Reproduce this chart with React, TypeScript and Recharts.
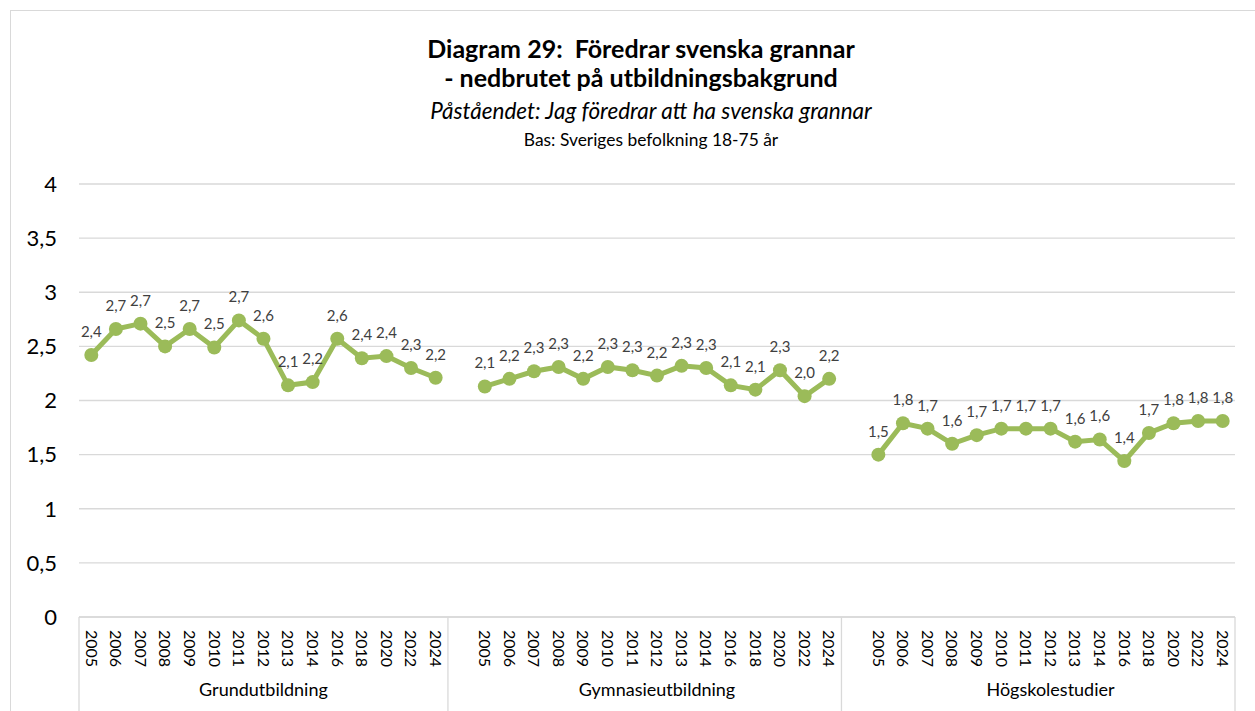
import React from 'react';
import { LineChart, Line, XAxis, YAxis, CartesianGrid, LabelList } from 'recharts';

const years = ['2005', '2006', '2007', '2008', '2009', '2010', '2011', '2012', '2013', '2014', '2016', '2018', '2020', '2022', '2024'];
const groups = ['Grundutbildning', 'Gymnasieutbildning', 'Högskolestudier'];
const grundValues = [2.42, 2.66, 2.71, 2.5, 2.66, 2.49, 2.74, 2.57, 2.14, 2.17, 2.57, 2.39, 2.41, 2.3, 2.21];
const gymValues = [2.13, 2.2, 2.27, 2.31, 2.2, 2.31, 2.28, 2.23, 2.32, 2.3, 2.14, 2.1, 2.28, 2.04, 2.2];
const hogValues = [1.5, 1.79, 1.74, 1.6, 1.68, 1.74, 1.74, 1.74, 1.62, 1.64, 1.44, 1.7, 1.79, 1.81, 1.81];
const yTicks = [0, 0.5, 1, 1.5, 2, 2.5, 3, 3.5, 4];

const title1 = 'Diagram 29:  Föredrar svenska grannar';
const title2 = '- nedbrutet på utbildningsbakgrund';
const subtitle = 'Påståendet: Jag föredrar att ha svenska grannar';
const baseText = 'Bas: Sveriges befolkning 18-75 år';

type Row = { key: string; year: string; group: string; yearIndex: number; gap: boolean; value: number | null };

const seriesByGroup = [grundValues, gymValues, hogValues];
const chartData: Row[] = [];
groups.forEach((g, gi) => {
  if (gi > 0) chartData.push({ key: `gap-${gi}`, year: '', group: g, yearIndex: -1, gap: true, value: null });
  years.forEach((yr, yi) => {
    chartData.push({ key: `${g}-${yr}`, year: yr, group: g, yearIndex: yi, gap: false, value: seriesByGroup[gi][yi] });
  });
});
const rowByKey: Record<string, Row> = {};
chartData.forEach((r) => (rowByKey[r.key] = r));

const FONT = "Lato, 'Open Sans', sans-serif";
const GREEN = '#9BBB59';
const GRID = '#d9d9d9';

const XTick = (props: any) => {
  const { x, y, payload, width, index } = props;
  const row = rowByKey[payload.value];
  if (!row) return null;
  const bw = width / chartData.length;
  const lines: React.ReactNode[] = [];
  if (index === 0 || row.gap) {
    lines.push(<line key="l" x1={x - bw / 2} x2={x - bw / 2} y1={y} y2={y + 110} stroke={GRID} strokeWidth={1.3} />);
  }
  if (index === chartData.length - 1) {
    lines.push(<line key="r" x1={x + bw / 2} x2={x + bw / 2} y1={y} y2={y + 110} stroke={GRID} strokeWidth={1.3} />);
  }
  return (
    <g>
      {lines}
      {row.year && (
        <text
          x={x}
          y={y + 13}
          transform={`rotate(90, ${x}, ${y + 13})`}
          textAnchor="start"
          dy="0.36em"
          fontSize={16}
          fontFamily={FONT}
          fill="#000"
        >
          {row.year}
        </text>
      )}
      {row.yearIndex === Math.floor(years.length / 2) && (
        <text x={x} y={y + 73} textAnchor="middle" dy="0.36em" fontSize={18} fontFamily={FONT} fill="#000">
          {row.group}
        </text>
      )}
    </g>
  );
};

const fmt = (v: any) => (typeof v === 'number' ? v.toFixed(1).replace('.', ',') : '');

export default function App() {
  return (
    <div style={{ position: 'absolute', left: 0, top: 0, width: 1255, height: 711, overflow: 'hidden', background: '#fff' }}>
      <div style={{ position: 'absolute', left: 10, top: 10, width: 1300, height: 800, border: `1.5px solid ${GRID}` }} />
      <div style={{ position: 'absolute', left: 0, top: 0, width: 1282, textAlign: 'center', fontFamily: FONT, color: '#000', whiteSpace: 'pre' }}>
        <div style={{ position: 'absolute', top: 33, width: '100%', fontSize: 25, fontWeight: 700, lineHeight: '30px' }}>{title1}</div>
        <div style={{ position: 'absolute', top: 62, width: '100%', fontSize: 25, fontWeight: 700, lineHeight: '30px' }}>{title2}</div>
        <div style={{ position: 'absolute', top: 97, left: 10, width: '100%', fontSize: 22.5, fontStyle: 'italic', lineHeight: '28px' }}>{subtitle}</div>
        <div style={{ position: 'absolute', top: 129, left: 10, width: '100%', fontSize: 17.4, lineHeight: '22px' }}>{baseText}</div>
      </div>
      <div style={{ position: 'absolute', left: 0, top: 0 }}>
        <LineChart width={1255} height={711} data={chartData} margin={{ top: 184, right: 20, bottom: 0, left: 0 }}>
          <CartesianGrid horizontal vertical={false} stroke={GRID} strokeWidth={1.3} />
          <XAxis
            dataKey="key"
            scale="band"
            interval={0}
            tickLine={false}
            tickSize={0}
            tickMargin={0}
            axisLine={{ stroke: GRID, strokeWidth: 1.3 }}
            height={94}
            tick={<XTick />}
          />
          <YAxis
            domain={[0, 4]}
            ticks={yTicks}
            width={79}
            axisLine={false}
            tickLine={false}
            tickSize={0}
            tickMargin={22}
            tickFormatter={(v: number) => String(v).replace('.', ',')}
            tick={{ fontSize: 22, fontFamily: FONT, fill: '#000' }}
          />
          <Line
            dataKey="value"
            stroke={GREEN}
            strokeWidth={5}
            dot={{ r: 7, fill: GREEN, stroke: GREEN, strokeWidth: 0 }}
            activeDot={false}
            connectNulls={false}
            isAnimationActive={false}
          >
            <LabelList dataKey="value" position="top" offset={18} formatter={fmt} fontSize={15} fontFamily={FONT} fill="#404040" />
          </Line>
        </LineChart>
      </div>
    </div>
  );
}
